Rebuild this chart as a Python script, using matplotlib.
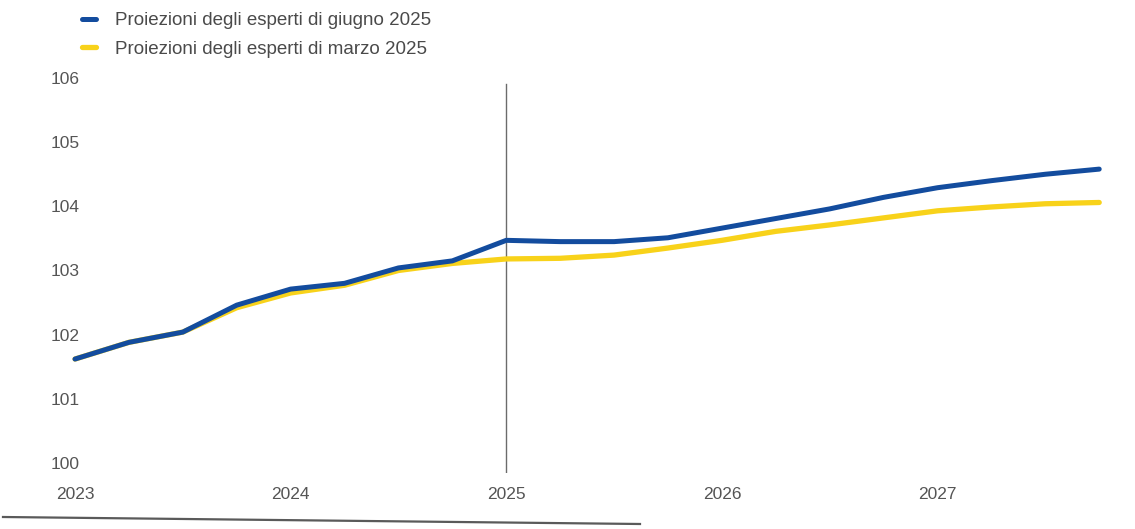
import numpy as np
import matplotlib
matplotlib.use("Agg")
import matplotlib.pyplot as plt
from matplotlib.lines import Line2D

plt.rcParams['font.family'] = ['Liberation Sans', 'DejaVu Sans']

# quarterly levels, 2023 Q1 - 2027 Q4
quarters = ['2023Q1', '2023Q2', '2023Q3', '2023Q4',
            '2024Q1', '2024Q2', '2024Q3', '2024Q4',
            '2025Q1', '2025Q2', '2025Q3', '2025Q4',
            '2026Q1', '2026Q2', '2026Q3', '2026Q4',
            '2027Q1', '2027Q2', '2027Q3', '2027Q4']
giugno_2025 = [101.62, 101.88, 102.04, 102.46,
               102.71, 102.80, 103.04, 103.15,
               103.47, 103.45, 103.45, 103.51,
               103.66, 103.81, 103.96, 104.14,
               104.29, 104.40, 104.50, 104.58]
marzo_2025 = [101.62, 101.88, 102.04, 102.42,
              102.65, 102.77, 103.00, 103.11,
              103.18, 103.19, 103.24, 103.35,
              103.47, 103.61, 103.71, 103.82,
              103.93, 103.99, 104.04, 104.06]
year_labels = ['2023', '2024', '2025', '2026', '2027']
y_ticks = [100, 101, 102, 103, 104, 105, 106]

blue = '#134c9e'
yellow = '#f8d21a'
grey_txt = '#555555'

W, H = 1135, 529
fig = plt.figure(figsize=(W / 100, H / 100), dpi=100)
# axes placed in pixel units: x from 70 to 1110, y from 78 to 473
ax = fig.add_axes([70 / W, (H - 473) / H, (1110 - 70) / W, (473 - 78) / H])

x = np.arange(len(quarters))
ax.plot(x, marzo_2025, color=yellow, lw=3.8, solid_capstyle='round',
        solid_joinstyle='round',
        label='Proiezioni degli esperti di marzo 2025', zorder=2)
ax.plot(x, giugno_2025, color=blue, lw=3.6, solid_capstyle='round',
        solid_joinstyle='round',
        label='Proiezioni degli esperti di giugno 2025', zorder=3)

# cut-off at 2025
ax.plot([8, 8], [99.84, 105.9], color='#6b6b6b', lw=1.0, zorder=1)

ax.set_xlim(-0.093, 19.2)
ax.set_ylim(99.844, 106.0)
ax.set_xticks(x[::4])
ax.set_xticklabels(year_labels)
ax.set_yticks(y_ticks)
ax.set_yticklabels([str(v) for v in y_ticks])
ax.tick_params(axis='both', length=0, labelsize=12.5, labelcolor=grey_txt)
ax.tick_params(axis='y', pad=14)
ax.tick_params(axis='x', pad=10)
for lab in ax.get_yticklabels():
    lab.set_horizontalalignment('left')
for s in ax.spines.values():
    s.set_visible(False)

handles, labels = ax.get_legend_handles_labels()
leg = fig.legend(handles[::-1], labels[::-1], loc='upper left',
                 bbox_to_anchor=(82 / W, 1 - 12 / H), frameon=False,
                 fontsize=13.5, handlelength=0.75, handletextpad=1.0,
                 labelspacing=0.6, borderpad=0, borderaxespad=0)
for t in leg.get_texts():
    t.set_color('#4a4a4a')

# rule along the bottom edge
fig.add_artist(Line2D([3 / W, 640 / W], [1 - 517 / H, 1 - 524 / H],
                      color='#5a5a5a', lw=1.6))

fig.savefig('out.png', dpi=100)
